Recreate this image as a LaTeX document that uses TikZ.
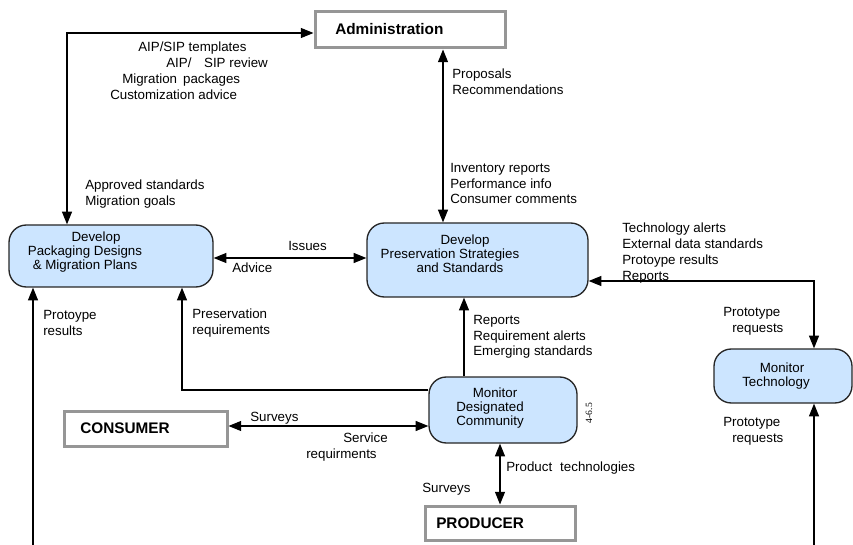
\documentclass[tikz,border=0pt]{standalone}
\usepackage{fontspec}
\setmainfont{Liberation Sans}
\newfontfamily\numserif{Liberation Serif}
\usetikzlibrary{arrows.meta}
\definecolor{boxblue}{RGB}{204,229,255}
\definecolor{extgray}{RGB}{150,150,150}
\begin{document}
\begin{tikzpicture}[x=0.75pt,y=-0.75pt,
  procbox/.style={draw=black!85, line width=1pt, fill=boxblue, rounded corners=13pt, inner sep=0pt},
  extbox/.style={draw=extgray, line width=2.25pt, fill=white, inner sep=0pt},
  boxtext/.style={font=\fontsize{10}{10.5}\selectfont, align=center, inner sep=0pt},
  exttext/.style={font=\fontsize{11.5}{13}\selectfont\bfseries, inner sep=0pt, anchor=west},
  lbl/.style={font=\fontsize{10}{11.8}\selectfont, align=left, inner sep=0pt, anchor=north west},
  flow/.style={line width=0.8pt, -{Triangle[length=9.5pt,width=7.5pt]}},
  biflow/.style={line width=0.8pt, {Triangle[length=9.5pt,width=7.5pt]}-{Triangle[length=9.5pt,width=7.5pt]}}
]
\useasboundingbox (0,0) rectangle (853,545);

% external entities
\node[extbox, minimum width=142.5pt, minimum height=27pt] (admin) at (410,30) {};
\node[exttext] (tadmin) at (335,29) {Administration};
\node[extbox, minimum width=122.25pt, minimum height=26.25pt] (consumer) at (145.5,428.5) {};
\node[exttext] (tconsumer) at (80,428) {CONSUMER};
\node[extbox, minimum width=112.5pt, minimum height=25.5pt] (producer) at (500,523) {};
\node[exttext] (tproducer) at (436,523.5) {PRODUCER};

% processes
\node[procbox, minimum width=153pt, minimum height=46.5pt] (pack) at (111,256) {};
\node[boxtext] (tpack) at (85,252) {\hspace*{16.5pt}Develop\\Packaging Designs\\\& Migration Plans};
\node[procbox, minimum width=165.75pt, minimum height=55.5pt] (pres) at (477.5,260) {};
\node[boxtext] (tpres) at (450,254) {\hspace*{22.5pt}Develop\\Preservation Strategies\\\hspace*{15pt}and Standards};
\node[procbox, minimum width=111pt, minimum height=49.5pt] (desig) at (503,410) {};
\node[boxtext] (tdesig) at (490,408) {\hspace*{7.5pt}Monitor\\Designated\\Community};
\node[procbox, minimum width=103.5pt, minimum height=40.5pt] (tech) at (783,376) {};
\node[boxtext] (ttech) at (776,376) {\hspace*{9pt}Monitor\\Technology};
\node[font=\fontsize{7.2}{8}\selectfont\numserif, rotate=90, inner sep=0pt] (ref) at (589,413) {4-6.5};

% labels
\node[lbl] (l1) at (110,42) {\hspace*{21pt}AIP/SIP templates\\\hspace*{42pt}AIP/\hspace{9.5pt}SIP review\\\hspace*{9pt}Migration\hspace{4.5pt}packages\\Customization advice};
\node[lbl] (l2) at (85,180) {Approved standards\\Migration goals};
\node[lbl] (l3) at (452,69) {Proposals\\Recommendations};
\node[lbl] (l4) at (450,163) {Inventory reports\\Performance info\\Consumer comments};
\node[lbl] (l5) at (288,241) {Issues};
\node[lbl] (l6) at (232,263) {Advice};
\node[lbl] (l7) at (622,223) {Technology alerts\\External data standards\\Protoype results\\Reports};
\node[lbl] (l8) at (723,307) {Prototype\\\hspace*{6.75pt}requests};
\node[lbl] (l9) at (723,417) {Prototype\\\hspace*{6.75pt}requests};
\node[lbl] (l10) at (43,310) {Protoype\\results};
\node[lbl] (l11) at (192,309) {Preservation\\requirements};
\node[lbl] (l12) at (473,315) {Reports\\Requirement alerts\\Emerging standards};
\node[lbl] (l13) at (250,412) {Surveys};
\node[lbl] (l14) at (306,433) {\hspace*{27.75pt}Service\\requirments};
\node[lbl] (l15) at (506,462) {Product\hspace{6pt}technologies};
\node[lbl] (l16) at (422,483) {Surveys};

% connectors
\coordinate (c1) at (67,33);
\draw[biflow] (admin.west |- c1) -- (c1) -- (pack.north -| c1);
\coordinate (c2) at (443,100);
\draw[biflow] (admin.south -| c2) -- (pres.north -| c2);
\coordinate (c3) at (290,258);
\draw[biflow] (pack.east |- c3) -- (pres.west |- c3);
\coordinate (c4) at (814,281);
\draw[biflow] (pres.east |- c4) -- (c4) -- (tech.north -| c4);
\coordinate (c5) at (814,545);
\draw[flow] (c5) -- (tech.south -| c5);
\coordinate (c6) at (464,340);
\draw[flow] (desig.north -| c6) -- (pres.south -| c6);
\coordinate (c7) at (182,390);
\draw[flow] (desig.west |- c7) -- (c7) -- (pack.south -| c7);
\coordinate (c8) at (300,426);
\draw[biflow] (consumer.east |- c8) -- (desig.west |- c8);
\coordinate (c9) at (500,470);
\draw[biflow] (desig.south -| c9) -- (producer.north -| c9);
\coordinate (c10) at (33,545);
\draw[flow] (c10) -- (pack.south -| c10);
\end{tikzpicture}
\end{document}
